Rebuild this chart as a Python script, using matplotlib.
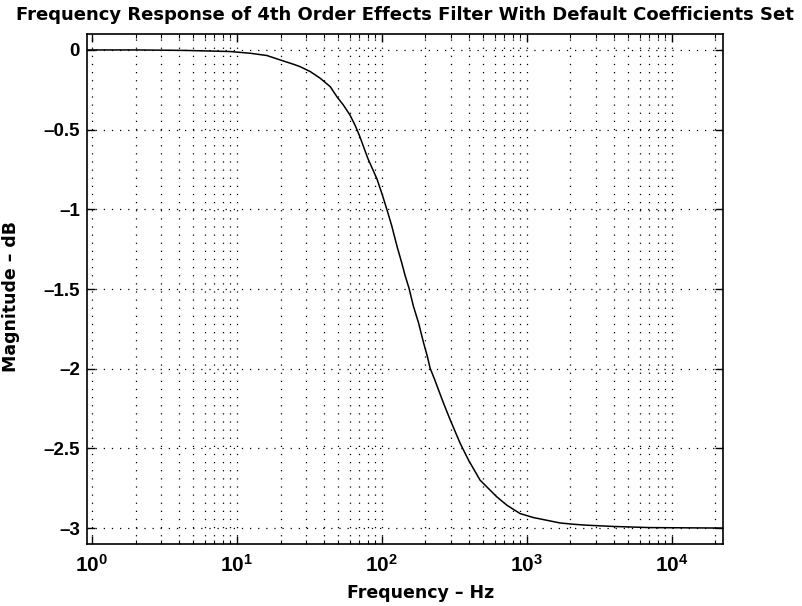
import numpy as np
import matplotlib
matplotlib.use('Agg')
import matplotlib.pyplot as plt
from matplotlib.ticker import LogLocator, FixedLocator, NullFormatter

plt.rcParams['font.family'] = ['Liberation Sans', 'DejaVu Sans']
plt.rcParams['font.weight'] = 'bold'
plt.rcParams['mathtext.fontset'] = 'custom'
plt.rcParams['mathtext.rm'] = 'Liberation Sans:bold'
plt.rcParams['mathtext.it'] = 'Liberation Sans:bold'
plt.rcParams['mathtext.bf'] = 'Liberation Sans:bold'

# values
freq_hz = [0.92, 2.0, 4.4, 9.0, 12.4, 16.1, 19.9, 24.6, 27.3, 32.1, 37.6, 44.1,
           49.0, 54.4, 60.4, 65.4, 70.0, 80.0, 92.4, 100, 108, 117, 127, 137,
           145, 154, 165, 179, 194, 206, 215, 233, 266, 296, 347, 396, 476,
           621, 728, 899, 1111, 1374, 1696, 2094, 2590, 4000, 7090, 22600]
mag_db = [0.0, 0.0, -0.003, -0.010, -0.021, -0.035, -0.063, -0.090, -0.105,
          -0.136, -0.178, -0.231, -0.294, -0.347, -0.410, -0.473, -0.536,
          -0.680, -0.808, -0.900, -0.997, -1.103, -1.229, -1.334, -1.418,
          -1.495, -1.607, -1.711, -1.837, -1.922, -1.995, -2.075, -2.215,
          -2.320, -2.468, -2.573, -2.699, -2.804, -2.856, -2.909, -2.934,
          -2.951, -2.968, -2.976, -2.982, -2.990, -2.997, -3.0]

y_ticks = [0, -0.5, -1, -1.5, -2, -2.5, -3]
y_labels = ['0', '–0.5', '–1', '–1.5', '–2', '–2.5', '–3']
x_ticks = [1, 10, 100, 1000, 10000]
x_labels = ['$10^{0}$', '$10^{1}$', '$10^{2}$', '$10^{3}$', '$10^{4}$']

fig = plt.figure(figsize=(8.03, 6.06), dpi=100)
ax = fig.add_axes([0.108, 0.1023, 0.7924, 0.8416])

ax.plot(freq_hz, mag_db, color='black', lw=1.1)

ax.set_xscale('log')
ax.set_xlim(0.92, 22600)
ax.set_ylim(-3.1, 0.1)

ax.xaxis.set_major_locator(FixedLocator(x_ticks))
ax.set_xticklabels(x_labels)
ax.xaxis.set_minor_locator(LogLocator(base=10, subs=np.arange(2, 10), numticks=20))
ax.xaxis.set_minor_formatter(NullFormatter())
ax.set_yticks(y_ticks)
ax.set_yticklabels(y_labels)

ax.tick_params(which='both', direction='in', top=True, right=True, color='black')
ax.tick_params(which='major', length=6, width=1.0)
ax.tick_params(which='minor', length=3, width=0.8)
ax.tick_params(axis='y', labelsize=13.5, pad=5)
ax.tick_params(axis='x', labelsize=15, pad=7)

dots = (0, (1, 5.5))
ax.grid(True, which='major', axis='both', color='black', lw=0.9, linestyle=dots)
ax.grid(True, which='minor', axis='x', color='black', lw=0.9, linestyle=dots)

for s in ax.spines.values():
    s.set_linewidth(1.2)

ax.set_xlabel('Frequency – Hz', fontsize=12.5, fontweight='bold', family='DejaVu Sans')
ax.xaxis.set_label_coords(0.525, -0.078)
ax.set_ylabel('Magnitude – dB', fontsize=12.5, fontweight='bold', family='DejaVu Sans')
ax.yaxis.set_label_coords(-0.105, 0.485)
ax.set_title('Frequency Response of 4th Order Effects Filter With Default Coefficients Set',
             fontsize=13, fontweight='bold', family='DejaVu Sans', pad=10)

fig.savefig('out.png', dpi=100)
